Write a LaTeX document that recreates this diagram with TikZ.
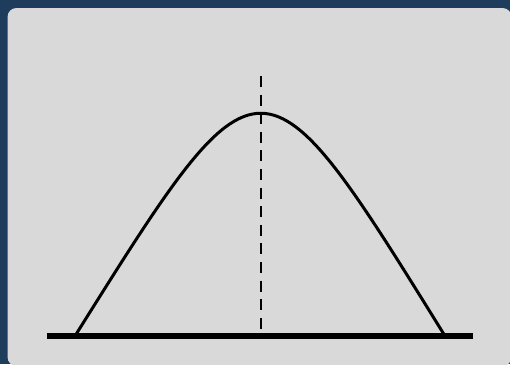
\documentclass[tikz,border=0pt]{standalone}
\definecolor{bgblue}{HTML}{1E3C5C}
\definecolor{panel}{HTML}{D9D9D9}
\begin{document}
\begin{tikzpicture}[x=1pt,y=-1pt,
  curve/.style={line width=3pt,line join=round},
  ground/.style={line width=6pt},
  axis/.style={line width=2.6pt,dash pattern=on 11pt off 7.6pt}]
\useasboundingbox (0,0) rectangle (510,364);
\fill[bgblue] (0,0) rectangle (510,364);
\fill[panel,rounded corners=9pt] (7.5,8) rectangle (511.5,366);
\coordinate (L) at (75,336);
\coordinate (C) at (261,39);
\coordinate (R) at (445,336);
\coordinate (gl) at (47,336);
\coordinate (gr) at (473,336);
\coordinate (at) at (261,76);
\coordinate (ab) at (261,329.5);
\draw[axis] (at) -- (ab);
\draw[curve] (L) .. controls (C) and (C) .. (R);
\draw[ground] (gl) -- (gr);
\end{tikzpicture}
\end{document}
